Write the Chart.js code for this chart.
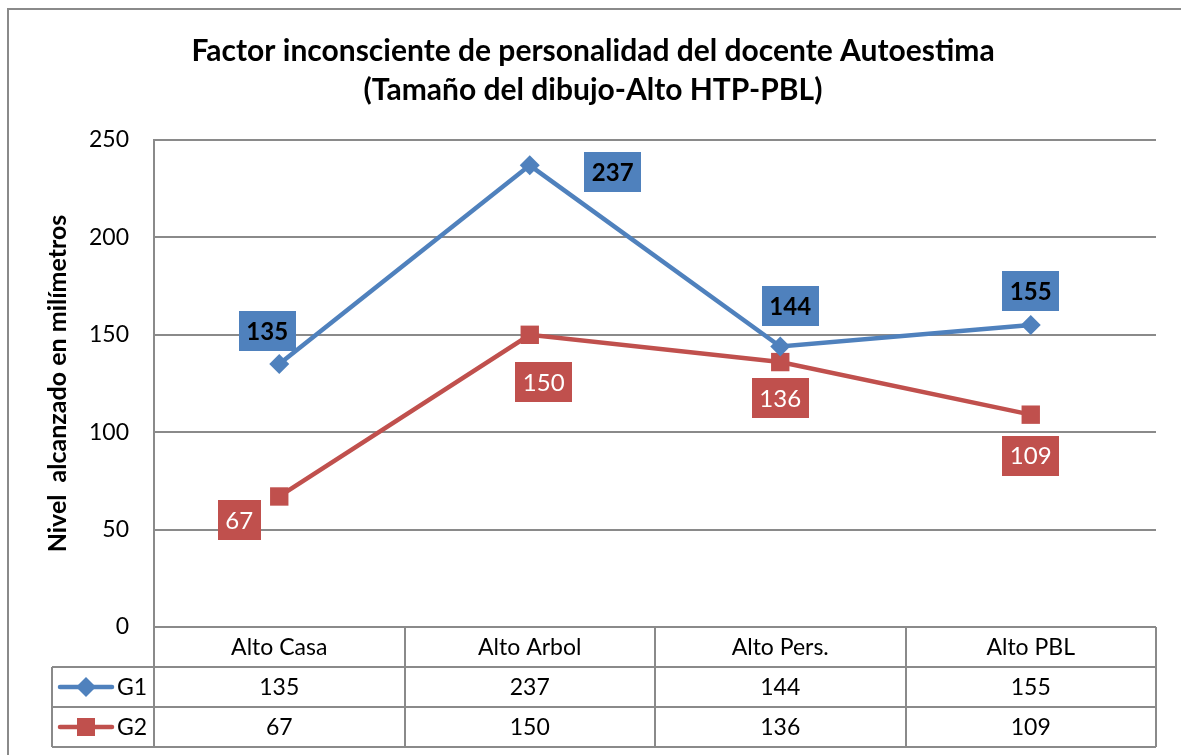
<!DOCTYPE html>
<html>
<head>
<meta charset="utf-8">
<script src="https://cdn.jsdelivr.net/npm/chart.js@4"></script>
<style>
  html, body { margin: 0; padding: 0; background: #fff; }
  #wrap { width: 1181px; height: 755px; }
</style>
</head>
<body>
<div id="wrap"><canvas id="autoChart" width="1181" height="755"></canvas></div>
<script>
// data
const categories = ['Alto Casa', 'Alto Arbol', 'Alto Pers.', 'Alto PBL'];
const seriesNames = ['G1', 'G2'];
const g1Values = [135, 237, 144, 155];
const g2Values = [67, 150, 136, 109];
const yMin = 0;
const yMax = 250;
const yStep = 50;
const titleLines = ['Factor inconsciente de personalidad del docente Autoestima', '(Tamaño del dibujo-Alto HTP-PBL)'];
const yTitle = 'Nivel  alcanzado en milímetros';

// where each value box sits relative to its point (px)
const g1LabelShift = [[-12, -33], [83, 7], [10, -40], [0, -34]];
const g2LabelShift = [[-40, 24], [14, 47], [0, 36], [0, 41]];

const BLUE = '#4F81BD';
const RED = '#C0504D';
const GRID = '#8a8a8a';
const FONT = 'Lato, "Open Sans", sans-serif';

function drawMarker(ctx, style, x, y, color) {
    ctx.fillStyle = color;
    ctx.beginPath();
    if (style === 'rectRot') {
        var r = 10;
        ctx.moveTo(x, y - r); ctx.lineTo(x + r, y); ctx.lineTo(x, y + r); ctx.lineTo(x - r, y);
    } else {
        ctx.rect(x - 9, y - 9, 18, 18);
    }
    ctx.closePath();
    ctx.fill();
}

// background + outer frame
const framePlugin = {
    id: 'frame',
    beforeDraw(chart) {
        var ctx = chart.ctx;
        ctx.save();
        ctx.fillStyle = '#fff';
        ctx.fillRect(0, 0, chart.width, chart.height);
        ctx.strokeStyle = GRID;
        ctx.lineWidth = 2;
        ctx.strokeRect(8, 9, chart.width + 50, chart.height + 50);
        ctx.restore();
    }
};

// value boxes next to the points
const valueBoxes = {
    id: 'valueBoxes',
    afterDatasetsDraw(chart) {
        var ctx = chart.ctx;
        ctx.save();
        ctx.textAlign = 'center';
        ctx.textBaseline = 'middle';
        chart.data.datasets.forEach(function (ds, di) {
            var shifts = di === 0 ? g1LabelShift : g2LabelShift;
            var meta = chart.getDatasetMeta(di);
            ctx.font = (di === 0 ? 'bold ' : '') + '24px ' + FONT;
            meta.data.forEach(function (pt, i) {
                var txt = String(ds.data[i]);
                var w = ctx.measureText(txt).width + 15;
                var h = 40;
                var cx = pt.x + shifts[i][0];
                var cy = pt.y + shifts[i][1];
                ctx.fillStyle = ds.borderColor;
                ctx.fillRect(Math.round(cx - w / 2), Math.round(cy - h / 2), Math.round(w), h);
                ctx.fillStyle = di === 0 ? '#000' : '#fff';
                ctx.fillText(txt, cx, cy + 1);
            });
        });
        ctx.restore();
    }
};

// data table under the plot
const dataTable = {
    id: 'dataTable',
    afterDraw(chart) {
        var ctx = chart.ctx;
        var xs = chart.scales.x;
        var area = chart.chartArea;
        var rowH = 40;
        var top = Math.round(area.bottom);
        var left = Math.round(area.left);
        var right = Math.round(area.right);
        var keyLeft = 52;
        var half = (xs.getPixelForValue(1) - xs.getPixelForValue(0)) / 2;
        ctx.save();
        ctx.strokeStyle = GRID;
        ctx.lineWidth = 2;
        ctx.beginPath();
        for (var r = 1; r <= 3; r++) {
            ctx.moveTo(keyLeft, top + r * rowH);
            ctx.lineTo(right, top + r * rowH);
        }
        ctx.moveTo(keyLeft, top + rowH); ctx.lineTo(keyLeft, top + 3 * rowH);
        ctx.moveTo(left, top); ctx.lineTo(left, top + 3 * rowH);
        categories.forEach(function (c, i) {
            var bx = Math.round(xs.getPixelForValue(i) + half);
            ctx.moveTo(bx, top); ctx.lineTo(bx, top + 3 * rowH);
        });
        ctx.stroke();

        ctx.fillStyle = '#000';
        ctx.font = '23px ' + FONT;
        ctx.textAlign = 'center';
        ctx.textBaseline = 'middle';
        categories.forEach(function (c, i) {
            var cx = xs.getPixelForValue(i);
            ctx.fillText(c, cx, top + rowH / 2 + 1);
            chart.data.datasets.forEach(function (ds, di) {
                ctx.fillText(String(ds.data[i]), cx, top + rowH * (di + 1) + rowH / 2 + 1);
            });
        });

        // legend keys
        chart.data.datasets.forEach(function (ds, di) {
            var y = top + rowH * (di + 1) + rowH / 2;
            ctx.strokeStyle = ds.borderColor;
            ctx.lineWidth = 4.5;
            ctx.lineCap = 'round';
            ctx.beginPath();
            ctx.moveTo(60, y); ctx.lineTo(112, y);
            ctx.stroke();
            drawMarker(ctx, ds.pointStyle, 86, y, ds.borderColor);
            ctx.fillStyle = '#000';
            ctx.textAlign = 'left';
            ctx.fillText(ds.label, 117, y + 1);
        });
        ctx.restore();
    }
};

const ctx = document.getElementById('autoChart').getContext('2d');
new Chart(ctx, {
    type: 'line',
    data: {
        labels: categories,
        datasets: [{
            label: seriesNames[0],
            data: g1Values,
            borderColor: BLUE,
            backgroundColor: BLUE,
            borderWidth: 4.5,
            pointStyle: 'rectRot',
            pointRadius: 10,
            pointBorderWidth: 0,
            tension: 0
        }, {
            label: seriesNames[1],
            data: g2Values,
            borderColor: RED,
            backgroundColor: RED,
            borderWidth: 4.5,
            pointStyle: 'rect',
            pointRadius: 13,
            pointBorderWidth: 0,
            tension: 0
        }]
    },
    options: {
        responsive: false,
        animation: false,
        layout: { padding: { left: 30, right: 25, bottom: 128, top: 0 } },
        plugins: {
            legend: { display: false },
            tooltip: { enabled: false },
            title: {
                display: true,
                text: titleLines,
                color: '#000',
                font: { family: FONT, size: 30, weight: 'bold', lineHeight: 1.3 },
                padding: { top: 32, bottom: 30 }
            }
        },
        scales: {
            x: {
                type: 'category',
                offset: true,
                display: false
            },
            y: {
                min: yMin,
                max: yMax,
                afterFit: function (scale) { scale.width = 124; },
                ticks: {
                    stepSize: yStep,
                    padding: 25,
                    color: '#000',
                    font: { family: FONT, size: 23 }
                },
                grid: { color: GRID, lineWidth: 2, drawTicks: false },
                border: { display: true, color: GRID, width: 2 },
                title: {
                    display: true,
                    text: yTitle,
                    color: '#000',
                    font: { family: FONT, size: 25, weight: 'bold' },
                    padding: { top: 13, bottom: 0 }
                }
            }
        }
    },
    plugins: [framePlugin, valueBoxes, dataTable]
});
</script>
</body>
</html>
